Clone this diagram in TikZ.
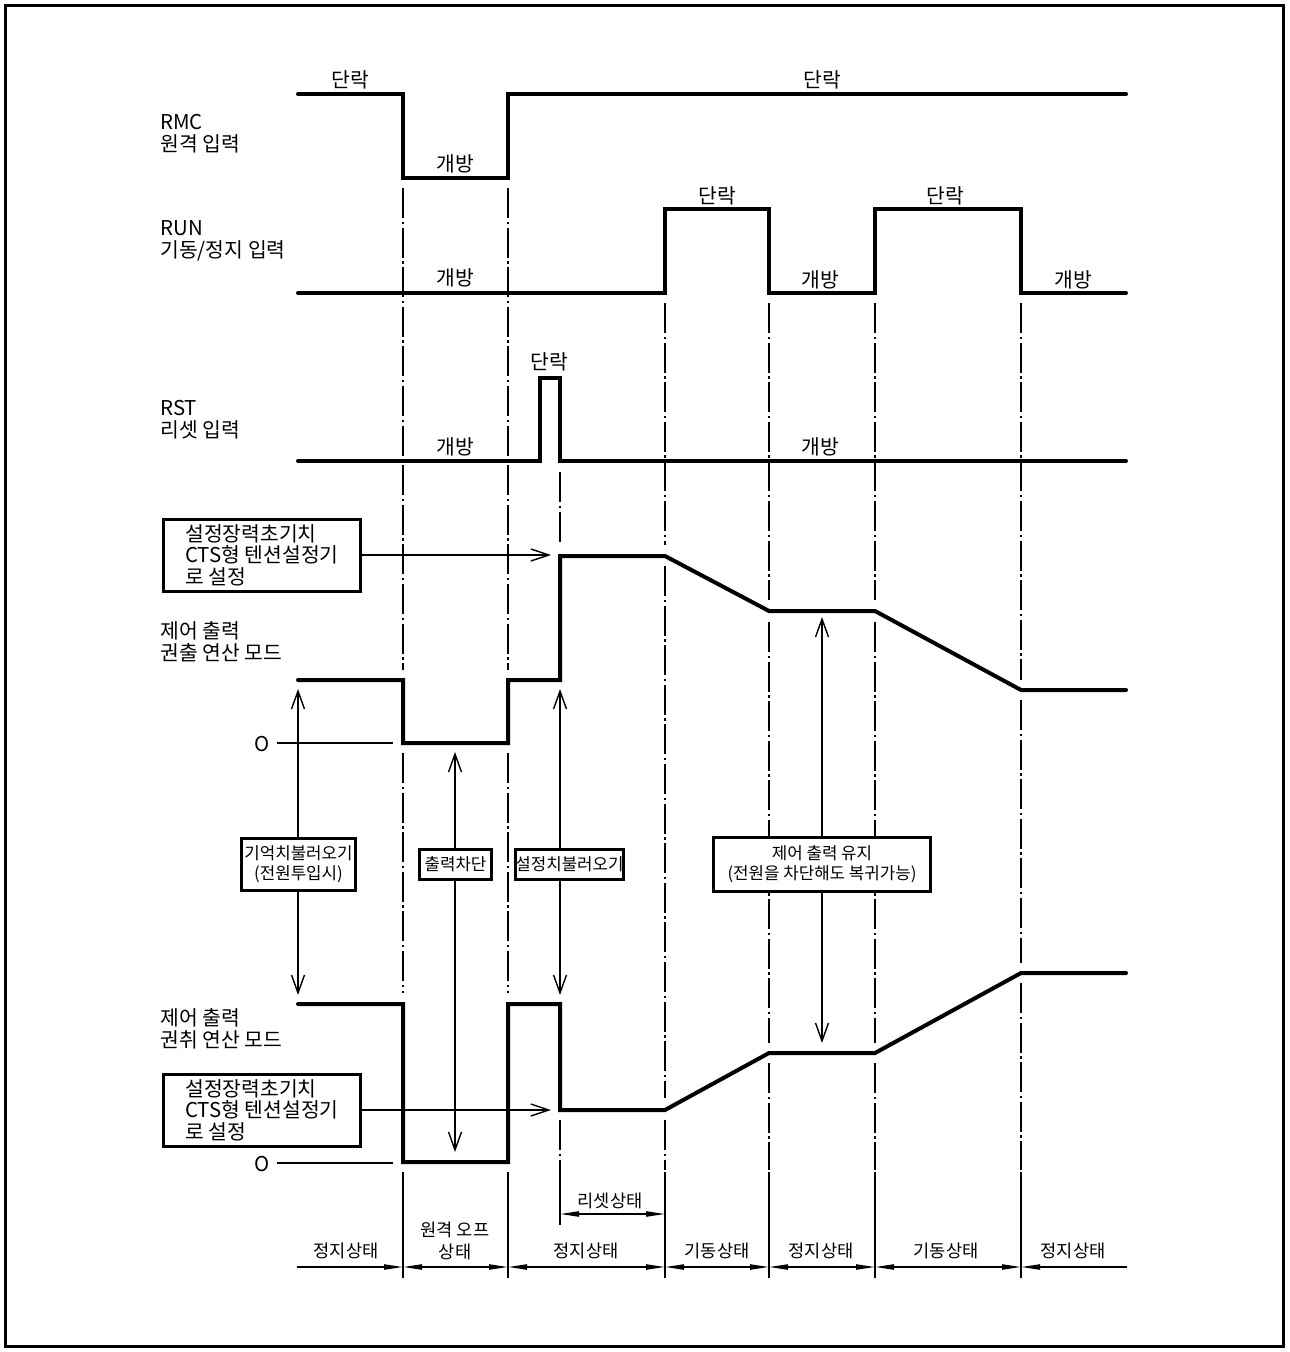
\documentclass[tikz,border=0pt]{standalone}
\usepackage{fontspec}
\setmainfont{Noto Sans CJK KR}
\usepackage{tikz}
\usetikzlibrary{arrows.meta,positioning,calc}
\tikzset{
  sigline/.style={line width=2pt, line join=miter, line cap=round},
  guideline/.style={line width=0.7pt, dash pattern=on 15pt off 1.8pt on 1.2pt off 1.8pt},
  extline/.style={line width=0.8pt},
  zeroline/.style={line width=0.7pt},
  callarrow/.style={line width=0.7pt,
    {Straight Barb[length=9pt,width=6.5pt]}-{Straight Barb[length=9pt,width=6.5pt]}},
  feedarrow/.style={line width=0.7pt, -{Straight Barb[length=9pt,width=6pt]}},
  dimarrow/.style={line width=0.8pt,
    {Triangle[length=9.5pt,width=2.6pt]}-{Triangle[length=9.5pt,width=2.6pt]}},
  notebox/.style={rectangle, draw, line width=1.5pt, fill=white,
    font=\fontsize{10.2}{10.8}\selectfont, align=left,
    minimum width=98.5pt, minimum height=36pt, inner sep=0pt},
  infobox/.style={rectangle, draw, line width=1.5pt, fill=white,
    font=\fontsize{8.4}{10}\selectfont, align=center, inner sep=0pt},
  labelnode/.style={font=\fontsize{10.2}{11}\selectfont, align=left, inner sep=0pt},
  statenode/.style={font=\fontsize{8.8}{11}\selectfont, align=center, inner sep=0pt},
}

\begin{document}
\begin{tikzpicture}[x=0.5pt, y=-0.5pt]
  \useasboundingbox (0,0) rectangle (1289,1352);
  \draw[line width=1.3pt] (5.5,5.5) rectangle (1283.5,1346.5);

  % signal names
  \node[labelnode, anchor=west] (rmcName) at (160,134) {RMC\\원격 입력};
  \node[labelnode, anchor=west] (runName) at (160,241) {RUN\\기동/정지 입력};
  \node[labelnode, anchor=west] (rstName) at (160,420) {RST\\리셋 입력};
  \node[labelnode, anchor=west] (unwName) at (160,642) {제어 출력\\권출 연산 모드};
  \node[labelnode, anchor=west] (rewName) at (160,1029) {제어 출력\\권취 연산 모드};

  % guide lines
  \foreach \x in {403,508} {
    \draw[guideline] (\x,188) -- (\x,670) (\x,753) -- (\x,993);
    \draw[extline] (\x,1172) -- (\x,1278);
  }
  \foreach \x/\ya/\yb/\yc/\yd in {665/545/566/1098/1120, 769/600/622/1043/1063,
                                  875/600/622/1043/1063, 1021/680/700/963/983} {
    \draw[guideline] (\x,303) -- (\x,\ya) (\x,\yb) -- (\x,\yc) (\x,\yd) -- (\x,1170);
    \draw[extline] (\x,1172) -- (\x,1278);
  }
  \draw[guideline] (560,472) -- (560,545) (560,1120) -- (560,1172);
  \draw[extline] (560,1172) -- (560,1225);

  % waveforms
  \draw[sigline] (298,94) -- (403,94) -- (403,178) -- (508,178) -- (508,94) -- (1126,94);
  \draw[sigline] (298,293) -- (665,293) -- (665,209) -- (769,209) -- (769,293)
    -- (875,293) -- (875,209) -- (1021,209) -- (1021,293) -- (1126,293);
  \draw[sigline] (298,461) -- (540,461) -- (540,378) -- (560,378) -- (560,461) -- (1126,461);
  \draw[sigline] (298,680) -- (403,680) -- (403,743) -- (508,743) -- (508,680) -- (560,680)
    -- (560,556) -- (665,556) -- (769,611) -- (875,611) -- (1021,690) -- (1126,690);
  \draw[sigline] (298,1004) -- (403,1004) -- (403,1162) -- (508,1162) -- (508,1004) -- (560,1004)
    -- (560,1110) -- (665,1110) -- (769,1053) -- (875,1053) -- (1021,973) -- (1126,973);

  % level labels
  \node[labelnode] (rmcOn1) at (350,80) {단락};
  \node[labelnode] (rmcOff) at (455,164) {개방};
  \node[labelnode] (rmcOn2) at (822,80) {단락};
  \node[labelnode] (runOff1) at (455,278) {개방};
  \node[labelnode] (runOn1) at (717,196) {단락};
  \node[labelnode] (runOff2) at (820,280) {개방};
  \node[labelnode] (runOn2) at (945,196) {단락};
  \node[labelnode] (runOff3) at (1073,280) {개방};
  \node[labelnode] (rstOn) at (549,362) {단락};
  \node[labelnode] (rstOff1) at (455,447) {개방};
  \node[labelnode] (rstOff2) at (820,447) {개방};

  % zero levels
  \node[labelnode] (zeroA) at (262,744) {O};
  \coordinate (zeroAend) at (393,743);
  \draw[zeroline] ([xshift=3.5pt]zeroA.east |- zeroAend) -- (zeroAend);
  \node[labelnode] (zeroB) at (262,1164) {O};
  \coordinate (zeroBend) at (393,1163);
  \draw[zeroline] ([xshift=3.5pt]zeroB.east |- zeroBend) -- (zeroBend);

  % initial setting boxes
  \node[notebox] (initA) at (262,555) {설정장력초기치\\CTS형 텐션설정기\\로 설정};
  \coordinate (initAtip) at (551,555);
  \draw[feedarrow] (initA.east) -- (initAtip);
  \node[notebox] (initB) at (262,1110) {설정장력초기치\\CTS형 텐션설정기\\로 설정};
  \coordinate (initBtip) at (551,1110);
  \draw[feedarrow] (initB.east) -- (initBtip);

  % call arrows
  \coordinate (memTop) at (298,689);  \coordinate (memBot) at (298,995);
  \coordinate (cutTop) at (455,752);  \coordinate (cutBot) at (455,1152);
  \coordinate (setTop) at (560,689);  \coordinate (setBot) at (560,995);
  \coordinate (holdTop) at (822,617); \coordinate (holdBot) at (822,1043);
  \draw[callarrow] (memTop) -- (memBot);
  \draw[callarrow] (cutTop) -- (cutBot);
  \draw[callarrow] (setTop) -- (setBot);
  \draw[callarrow] (holdTop) -- (holdBot);
  \node[infobox, minimum width=57pt, minimum height=26pt] (memBox) at (298.5,864)
    {기억치불러오기\\(전원투입시)};
  \node[infobox, minimum width=36pt, minimum height=15pt] (cutBox) at (455.5,864) {출력차단};
  \node[infobox, minimum width=51pt, minimum height=15pt] (setBox) at (569.5,864) {설정치불러오기};
  \node[infobox, minimum width=108.5pt, minimum height=27pt] (holdBox) at (822,864)
    {제어 출력 유지\\(전원을 차단해도 복귀가능)};

  % state dimension line
  \foreach \n/\x in {a/297, b/403, c/508, e/665, f/769, g/875, h/1021, z/1127}
    \coordinate (d\n) at (\x,1267);
  \draw[line width=0.8pt, -{Triangle[length=9.5pt,width=2.6pt]}] (da) -- (db);
  \foreach \p/\q in {b/c, c/e, e/f, f/g, g/h}
    \draw[dimarrow] (d\p) -- (d\q);
  \draw[line width=0.8pt, {Triangle[length=9.5pt,width=2.6pt]}-] (dh) -- (dz);
  \coordinate (rsA) at (560,1214);
  \coordinate (rsB) at (665,1214);
  \draw[dimarrow] (rsA) -- (rsB);

  \node[statenode] (st1) at (346,1251) {정지상태};
  \node[statenode] (st2) at (455,1241) {원격 오프\\상태};
  \node[statenode] (st3) at (586,1251) {정지상태};
  \node[statenode] (st4) at (717,1251) {기동상태};
  \node[statenode] (st5) at (821,1251) {정지상태};
  \node[statenode] (st6) at (946,1251) {기동상태};
  \node[statenode] (st7) at (1073,1251) {정지상태};
  \node[statenode] (st8) at (610,1201) {리셋상태};
\end{tikzpicture}
\end{document}
